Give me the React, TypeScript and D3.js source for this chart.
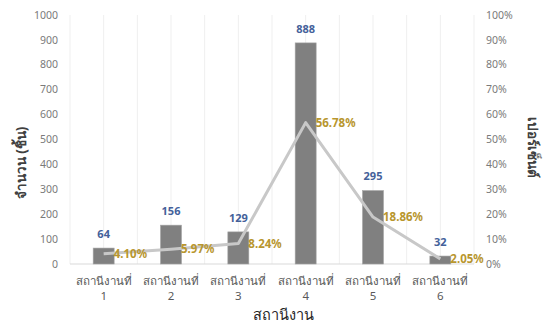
import React from "react";
import * as d3 from "d3";

const categories = ["สถานีงานที่ 1", "สถานีงานที่ 2", "สถานีงานที่ 3", "สถานีงานที่ 4", "สถานีงานที่ 5", "สถานีงานที่ 6"];
const counts = [64, 156, 129, 888, 295, 32];
const percents = [4.1, 5.97, 8.24, 56.78, 18.86, 2.05];
const countTicks = [0, 100, 200, 300, 400, 500, 600, 700, 800, 900, 1000];
const percentTicks = [0, 10, 20, 30, 40, 50, 60, 70, 80, 90, 100];

const W = 545;
const H = 324;
const left = 70;
const right = 474;
const top = 15;
const bottom = 264;
const font = "Tahoma, 'Noto Sans', 'DejaVu Sans', sans-serif";

export default function App() {
  const x = d3.scaleBand<string>().domain(categories).range([left, right]).padding(0);
  const yL = d3.scaleLinear().domain([0, 1000]).range([bottom, top]);
  const yR = d3.scaleLinear().domain([0, 100]).range([bottom, top]);
  const bw = 21;
  const cx = (c: string) => (x(c) as number) + x.bandwidth() / 2;

  const line = d3
    .line<number>()
    .x((_, i) => cx(categories[i]))
    .y((d) => yR(d));

  // vertical gridlines at band edges and centres
  const grid: number[] = [];
  for (let i = 0; i <= categories.length * 2; i++) grid.push(left + (i * x.bandwidth()) / 2);

  return (
    <svg width={W} height={H} style={{ position: "absolute", left: 0, top: 0, background: "#fff" }}>
      {grid.map((g, i) => (
        <line key={i} x1={g} x2={g} y1={top} y2={bottom} stroke="#efefef" strokeWidth={1} />
      ))}
      <line x1={left} x2={right} y1={bottom} y2={bottom} stroke="#d9d9d9" strokeWidth={1} />

      {countTicks.map((t) => (
        <text key={t} x={58} y={yL(t)} dy="0.35em" textAnchor="end" fontSize={10.5} fill="#7a7a7a" fontFamily={font}>
          {t}
        </text>
      ))}
      {percentTicks.map((t) => (
        <text key={t} x={486} y={yR(t)} dy="0.35em" textAnchor="start" fontSize={10.5} fill="#7a7a7a" fontFamily={font}>
          {t}%
        </text>
      ))}

      {counts.map((v, i) => (
        <rect key={i} x={cx(categories[i]) - bw / 2} y={yL(v)} width={bw} height={bottom - yL(v)} fill="#808080" stroke="#a6a6a6" strokeWidth={0.6} />
      ))}
      {counts.map((v, i) => (
        <text key={i} x={cx(categories[i])} y={yL(v) - 14} dy="0.35em" textAnchor="middle" fontSize={11} fontWeight="bold" fill="#44619a" fontFamily={font}>
          {v}
        </text>
      ))}

      <path d={line(percents) || ""} fill="none" stroke="#c8c8c8" strokeWidth={3} strokeLinejoin="round" />
      {percents.map((p, i) => (
        <text key={i} x={cx(categories[i]) + 10} y={yR(p)} dy="0.35em" textAnchor="start" fontSize={11.5} fontWeight="bold" fill="#b8962e" fontFamily={font}>
          {p.toFixed(2)}%
        </text>
      ))}

      {categories.map((c) => {
        const parts = c.split(" ");
        return (
          <text key={c} x={cx(c)} y={281} textAnchor="middle" fontSize={11.5} fill="#595959" fontFamily={font}>
            <tspan x={cx(c)} dy="0.35em">{parts[0]}</tspan>
            <tspan x={cx(c)} dy="14.5">{parts[1]}</tspan>
          </text>
        );
      })}

      <text x={283} y={315} dy="0.35em" textAnchor="middle" fontSize={14.5} fill="#262626" fontFamily={font}>
        สถานีงาน
      </text>
      <text transform={`translate(21,163) rotate(-90)`} dy="0.35em" textAnchor="middle" fontSize={13.5} fontWeight="bold" fill="#404040" fontFamily={font}>
        จำนวน (ชิ้น)
      </text>
      <text transform={`translate(533,147) rotate(90)`} dy="0.35em" textAnchor="middle" fontSize={13.5} fontWeight="bold" fill="#404040" fontFamily={font}>
        เปอร์เซ็นต์
      </text>
    </svg>
  );
}
